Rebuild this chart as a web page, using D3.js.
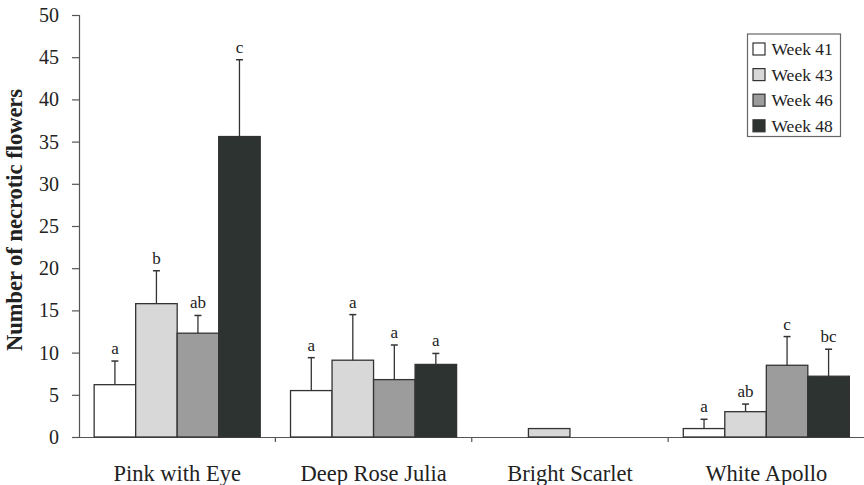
<!DOCTYPE html>
<html><head><meta charset="utf-8">
<script src="https://cdn.jsdelivr.net/npm/d3@7"></script>
<style>body{margin:0;background:#fff}svg{display:block}</style>
</head><body>
<svg id="c" width="864" height="485"></svg>
<script>
const categories = ["Pink with Eye","Deep Rose Julia","Bright Scarlet","White Apollo"];
const weeks = ["Week 41","Week 43","Week 46","Week 48"];
const means = {
  "Week 41": [6.2, 5.5, 0, 1.0],
  "Week 43": [15.8, 9.1, 1.0, 3.0],
  "Week 46": [12.3, 6.8, 0, 8.5],
  "Week 48": [35.6, 8.6, 0, 7.2]
};
const errors = {
  "Week 41": [2.8, 3.9, 0, 1.1],
  "Week 43": [3.9, 5.4, 0, 0.9],
  "Week 46": [2.1, 4.1, 0, 3.4],
  "Week 48": [9.1, 1.3, 0, 3.2]
};
const letters = {
  "Week 41": ["a","a","","a"],
  "Week 43": ["b","a","","ab"],
  "Week 46": ["ab","a","","c"],
  "Week 48": ["c","a","","bc"]
};
const yTicks = [0,5,10,15,20,25,30,35,40,45,50];
const colors = ["#ffffff","#d8d8d8","#9c9c9c","#2c3330"];

const FONT = "'Liberation Serif', Tinos, 'Times New Roman', Times, 'Nimbus Roman', 'DejaVu Serif', serif";
const svg = d3.select("#c").attr("font-family", FONT);
const x = d3.scaleBand().domain(categories).range([79, 864.5]).padding(0);
const xs = d3.scaleBand().domain(weeks).range([0, x.bandwidth()]).paddingInner(0).paddingOuter(0.365);
const y = d3.scaleLinear().domain([0,50]).range([437,15]);
const color = d3.scaleOrdinal().domain(weeks).range(colors);

// y axis
const ya = svg.append("g").attr("transform","translate(79,0)")
  .call(d3.axisLeft(y).tickValues(yTicks).tickSize(7).tickPadding(13));
ya.attr("font-family", FONT).attr("font-size", 20);
ya.selectAll("text").attr("fill","#222");
ya.select(".domain").attr("stroke","#555").attr("stroke-width",1.2);
ya.selectAll(".tick line").attr("stroke","#555").attr("stroke-width",1.2);

// x axis
const xa = svg.append("g").attr("transform","translate(0,437)")
  .call(d3.axisBottom(x).tickSize(0).tickPadding(28));
xa.attr("font-family", FONT).attr("font-size", 22.5);
xa.select(".domain").attr("stroke","#555").attr("stroke-width",1.2);
xa.selectAll("text").attr("fill","#222");
svg.append("g").selectAll("line").data(categories.slice(1)).join("line")
  .attr("x1", d=>x(d)).attr("x2", d=>x(d)).attr("y1",437).attr("y2",442)
  .attr("stroke","#555").attr("stroke-width",1.2);

// bars
const rows = [];
categories.forEach((c,i)=>weeks.forEach(w=>rows.push({c, w, v: means[w][i], e: errors[w][i], l: letters[w][i]})));
const g = svg.append("g");
g.selectAll("rect").data(rows).join("rect")
  .attr("x", d=>x(d.c)+xs(d.w)).attr("width", xs.bandwidth())
  .attr("y", d=>y(d.v)).attr("height", d=>y(0)-y(d.v))
  .attr("fill", d=>color(d.w)).attr("stroke","#333").attr("stroke-width",1.3);
const eb = rows.filter(d=>d.e>0);
g.selectAll("line.err").data(eb).join("line").attr("class","err")
  .attr("x1", d=>x(d.c)+xs(d.w)+xs.bandwidth()/2).attr("x2", d=>x(d.c)+xs(d.w)+xs.bandwidth()/2)
  .attr("y1", d=>y(d.v)).attr("y2", d=>y(d.v+d.e)).attr("stroke","#333").attr("stroke-width",1.3);
g.selectAll("line.cap").data(eb).join("line").attr("class","cap")
  .attr("x1", d=>x(d.c)+xs(d.w)+xs.bandwidth()/2-3.5).attr("x2", d=>x(d.c)+xs(d.w)+xs.bandwidth()/2+3.5)
  .attr("y1", d=>y(d.v+d.e)).attr("y2", d=>y(d.v+d.e)).attr("stroke","#333").attr("stroke-width",1.5);
g.selectAll("text.lbl").data(rows.filter(d=>d.l)).join("text").attr("class","lbl")
  .attr("x", d=>x(d.c)+xs(d.w)+xs.bandwidth()/2).attr("y", d=>y(d.v+d.e)-7)
  .attr("text-anchor","middle").attr("font-size",17).attr("fill","#222").text(d=>d.l);

// y title
svg.append("text").attr("transform","translate(22,220) rotate(-90)")
  .attr("text-anchor","middle").attr("font-size",22.5).attr("font-weight","bold").attr("fill","#222")
  .text("Number of necrotic flowers");

// legend
const lg = svg.append("g");
lg.append("rect").attr("x",747.5).attr("y",34).attr("width",93).attr("height",102.5)
  .attr("fill","#fff").attr("stroke","#666").attr("stroke-width",1.2);
const li = lg.selectAll("g").data(weeks).join("g")
  .attr("transform",(d,i)=>`translate(753,${49+i*25.6})`);
li.append("rect").attr("x",0).attr("y",-6).attr("width",12).attr("height",12)
  .attr("fill",d=>color(d)).attr("stroke","#333").attr("stroke-width",1.2);
li.append("text").attr("x",18.5).attr("y",6).attr("font-size",17.5).attr("fill","#222").text(d=>d);
</script>
</body></html>
